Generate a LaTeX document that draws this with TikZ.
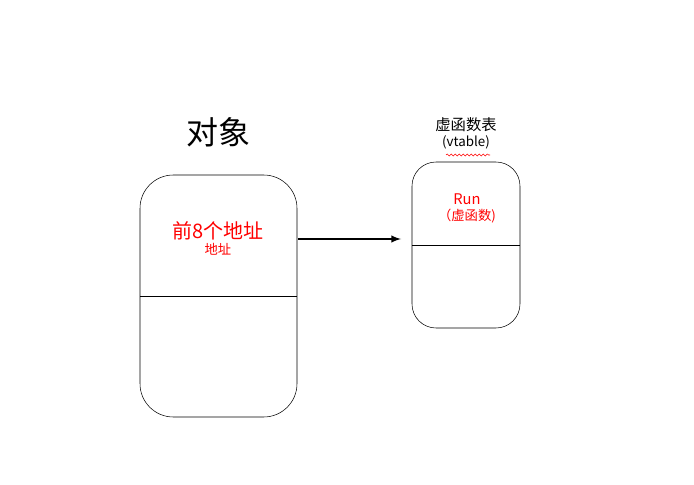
\documentclass[tikz,border=0pt]{standalone}
\usepackage{fontspec}
\setmainfont{Noto Sans CJK SC}
\usetikzlibrary{decorations.pathmorphing}

\begin{document}
\begin{tikzpicture}[x=0.75pt,y=-0.75pt]
            \useasboundingbox[fill=white] (0,0) rectangle (694,485);

            % Object box with divider
            \draw[rounded corners=25] (140,175) rectangle (297,417);
            \draw (140,296) -- (297,296);
            \node (objtitle) at (218,132) {\fontsize{24pt}{28pt}\selectfont 对象};
            \node[red, align=center] (objptr) at (218,238) {\fontsize{15pt}{21pt}\selectfont 前8个地址\\地址};

            % Virtual table box with divider
            \draw[rounded corners=18] (412,162) rectangle (520,328);
            \draw (412,245) -- (520,245);
            \node[align=center] (vttitle) at (466,133) {\fontsize{11.5pt}{17pt}\selectfont 虚函数表\\(vtable)};
            \draw[red, line width=0.4pt, decorate, decoration={snake, amplitude=0.8, segment length=3}] (446,155) -- (490,155);
            \node[red, align=center] (vtrun) at (467,208) {\fontsize{11pt}{16pt}\selectfont Run\\（虚函数)};

            % Pointer from object to table
            \coordinate (ptrstart) at (298,239);
            \coordinate (ptrend) at (401,239);
            \draw[-latex, line width=1.5pt] (ptrstart) -- (ptrend);
\end{tikzpicture}
\end{document}
